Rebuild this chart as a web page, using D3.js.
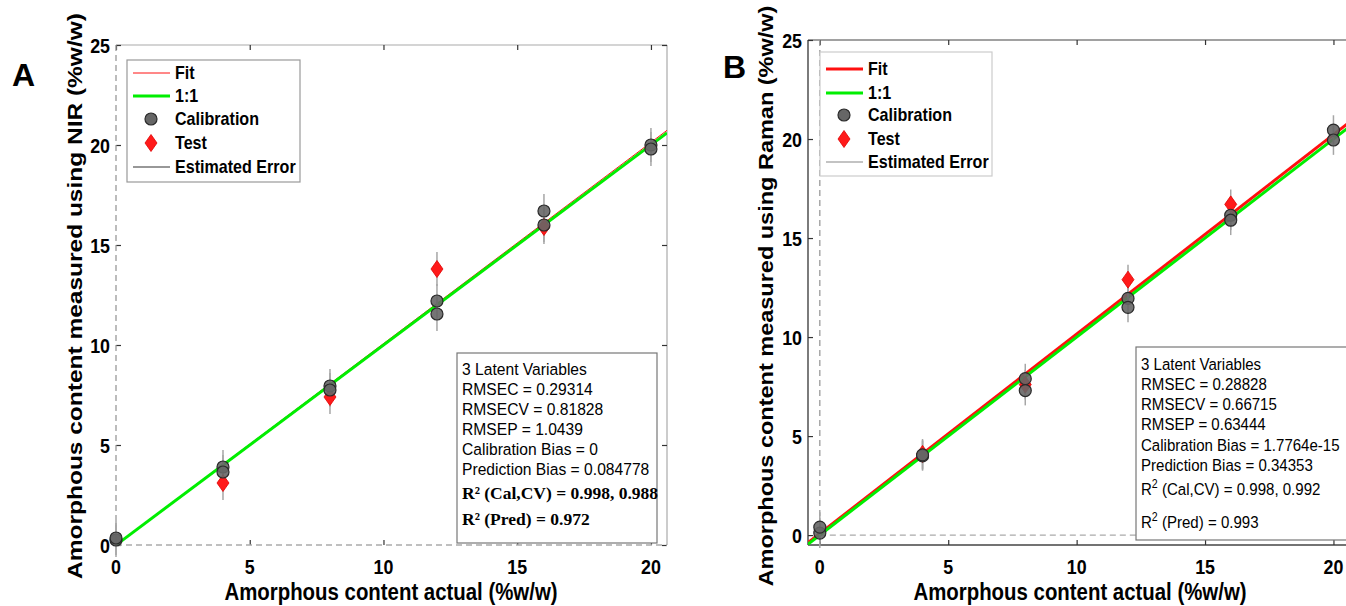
<!DOCTYPE html>
<html>
<head>
<meta charset="utf-8">
<script src="https://cdn.jsdelivr.net/npm/d3@7"></script>
<style>
  body { margin: 0; background: #fff; }
  svg { display: block; }
  text { font-family: "Liberation Sans", Arial, Helvetica, sans-serif; fill: #000; }
</style>
</head>
<body>
<svg id="chart" width="1346" height="606"></svg>
<script>
// ---- data ----
const xTicks = [0, 5, 10, 15, 20];
const yTicks = [0, 5, 10, 15, 20, 25];
const legendLabels = ['Fit', '1:1', 'Calibration', 'Test', 'Estimated Error'];

// panel A (NIR)
const nirCalX = [0, 0, 4, 4, 8, 8, 12, 12, 16, 16, 20, 20];
const nirCalY = [0.25, 0.35, 3.9, 3.65, 7.95, 7.75, 12.2, 11.55, 16.7, 16.0, 20.0, 19.8];
const nirTestX = [4, 8, 12, 16];
const nirTestY = [3.1, 7.4, 13.8, 15.9];
const nirErr = 0.85;
const nirFit = [1.006, 0.01];   // slope, intercept
const nirStats = ['3 Latent Variables', 'RMSEC = 0.29314', 'RMSECV = 0.81828', 'RMSEP = 1.0439',
  'Calibration Bias = 0', 'Prediction Bias = 0.084778'];
const nirR2 = ['(Cal,CV) = 0.998, 0.988', '(Pred) = 0.972'];

// panel B (Raman)
const ramCalX = [0, 0, 4, 4, 8, 8, 12, 12, 16, 16, 20, 20];
const ramCalY = [0.1, 0.4, 4.0, 4.05, 7.9, 7.3, 11.95, 11.5, 16.15, 15.9, 20.45, 19.95];
const ramTestX = [4, 8, 12, 16];
const ramTestY = [4.1, 7.6, 12.9, 16.7];
const ramErr = 0.75;
const ramFit = [1.007, 0.08];
const ramStats = ['3 Latent Variables', 'RMSEC = 0.28828', 'RMSECV = 0.66715', 'RMSEP = 0.63444',
  'Calibration Bias = 1.7764e-15', 'Prediction Bias = 0.34353'];
const ramR2 = ['(Cal,CV) = 0.998, 0.992', '(Pred) = 0.993'];

const svg = d3.select('#chart');

// text that is a little narrower than it is tall, like the reference
function sText(g, x, y, str, size, sx, weight) {
  return g.append('text')
    .attr('transform', `translate(${x},${y}) scale(${sx},1)`)
    .attr('font-size', size)
    .attr('font-weight', weight || 'normal')
    .text(str);
}

function diamond(g, cx, cy) {
  g.append('path')
    .attr('d', `M${cx},${cy - 8.5}L${cx + 6},${cy}L${cx},${cy + 8.5}L${cx - 6},${cy}Z`)
    .attr('fill', '#ff1a1a').attr('stroke', '#e00000').attr('stroke-width', 0.8);
}

function drawPanel(p) {
  const g = svg.append('g');
  const x = d3.scaleLinear().domain(p.xDom).range([p.left, p.right]);
  const y = d3.scaleLinear().domain(p.yDom).range([p.bottom, p.top]);

  const clipId = 'clip' + p.id;
  svg.append('clipPath').attr('id', clipId).append('rect')
    .attr('x', p.left).attr('y', p.top)
    .attr('width', p.right - p.left).attr('height', p.bottom - p.top);

  // box
  g.append('line').attr('x1', p.left).attr('x2', p.right).attr('y1', p.top).attr('y2', p.top)
    .attr('stroke', p.topColor).attr('stroke-width', 1.2);
  g.append('line').attr('x1', p.right).attr('x2', p.right).attr('y1', p.top).attr('y2', p.bottom)
    .attr('stroke', p.topColor).attr('stroke-width', 1.2);
  if (p.solidLeft) {
    g.append('line').attr('x1', p.left).attr('x2', p.left).attr('y1', p.top).attr('y2', p.bottom)
      .attr('stroke', '#444').attr('stroke-width', 1.4);
    g.append('line').attr('x1', p.left).attr('x2', p.right).attr('y1', p.bottom).attr('y2', p.bottom)
      .attr('stroke', '#444').attr('stroke-width', 1.6);
  }

  // ticks (inward)
  const axes = [
    [d3.axisBottom(x).tickValues(xTicks), `translate(0,${p.bottom})`],
    [d3.axisTop(x).tickValues(xTicks), `translate(0,${p.top})`],
    [d3.axisLeft(y).tickValues(yTicks), `translate(${p.left},0)`],
    [d3.axisRight(y).tickValues(yTicks), `translate(${p.right},0)`]
  ];
  axes.forEach(([ax, tr]) => {
    const a = g.append('g').attr('transform', tr).call(ax.tickSize(-5).tickFormat(''));
    a.select('.domain').remove();
    a.selectAll('line').attr('stroke', '#333').attr('stroke-width', 1.2);
  });

  // dashed zero lines
  g.append('line').attr('x1', x(0)).attr('x2', x(0)).attr('y1', p.top).attr('y2', p.bottom)
    .attr('stroke', '#999').attr('stroke-width', 1.3).attr('stroke-dasharray', '6,4');
  g.append('line').attr('x1', x(0)).attr('x2', p.right).attr('y1', y(0)).attr('y2', y(0))
    .attr('stroke', '#aaa').attr('stroke-width', 1.3).attr('stroke-dasharray', '6,4');

  // tick labels
  xTicks.forEach(t => {
    sText(g, x(t), p.bottom + 29, t, 21, 0.85, 'bold').attr('text-anchor', 'middle');
  });
  yTicks.forEach(t => {
    sText(g, p.left - 6, y(t) + 7.5, t, 21, 0.85, 'bold').attr('text-anchor', 'end');
  });

  // axis titles
  sText(g, p.xLabelX, 600, 'Amorphous content actual (%w/w)', 24, 0.85, 'bold')
    .attr('text-anchor', 'middle');
  g.append('text')
    .attr('transform', `translate(${p.yLabelX},${p.yLabelY}) scale(0.85,1) rotate(-90)`)
    .attr('font-size', p.yLabelSize).attr('font-weight', 'bold').attr('text-anchor', 'middle')
    .text(p.yLabel);

  // panel letter
  g.append('text').attr('x', p.letterX).attr('y', p.letterY)
    .attr('font-size', 32).attr('font-weight', 'bold').text(p.letter);

  // fit and 1:1 lines
  const lines = g.append('g').attr('clip-path', `url(#${clipId})`);
  const lineGen = d3.line().x(d => x(d[0])).y(d => y(d[1]));
  const xs = [p.xDom[0], p.xDom[1]];
  lines.append('path').datum(xs.map(v => [v, p.fit[0] * v + p.fit[1]]))
    .attr('d', lineGen).attr('fill', 'none').attr('stroke', '#ff1010').attr('stroke-width', p.fitWidth);
  lines.append('path').datum(xs.map(v => [v, v]))
    .attr('d', lineGen).attr('fill', 'none').attr('stroke', '#00ee00').attr('stroke-width', 3);

  // error bars
  const allX = p.calX.concat(p.testX), allY = p.calY.concat(p.testY);
  allX.forEach((v, i) => {
    g.append('line').attr('x1', x(v)).attr('x2', x(v))
      .attr('y1', y(allY[i] - p.err)).attr('y2', y(allY[i] + p.err))
      .attr('stroke', '#a6a6a6').attr('stroke-width', 1.5);
  });

  // markers
  p.testX.forEach((v, i) => diamond(g, x(v), y(p.testY[i])));
  p.calX.forEach((v, i) => {
    g.append('circle').attr('cx', x(v)).attr('cy', y(p.calY[i])).attr('r', 6)
      .attr('fill', '#666').attr('fill-opacity', 0.9).attr('stroke', '#2a2a2a').attr('stroke-width', 1.2);
  });

  // legend
  const L = p.legend;
  g.append('rect').attr('x', L.x).attr('y', L.y).attr('width', L.w).attr('height', L.h)
    .attr('fill', '#fff').attr('stroke', L.stroke).attr('stroke-width', 1.2);
  legendLabels.forEach((lab, i) => {
    const cy = L.y + L.rows[i];
    const mx = L.x + 24;
    if (i === 0) {
      g.append('line').attr('x1', L.x + 6).attr('x2', L.x + 43).attr('y1', cy).attr('y2', cy)
        .attr('stroke', '#ff1010').attr('stroke-width', p.fitWidth);
    } else if (i === 1) {
      g.append('line').attr('x1', L.x + 6).attr('x2', L.x + 43).attr('y1', cy).attr('y2', cy)
        .attr('stroke', '#00ee00').attr('stroke-width', 3);
    } else if (i === 2) {
      g.append('circle').attr('cx', mx).attr('cy', cy).attr('r', 6)
        .attr('fill', '#666').attr('stroke', '#2a2a2a').attr('stroke-width', 1.2);
    } else if (i === 3) {
      diamond(g, mx, cy);
    } else {
      g.append('line').attr('x1', L.x + 6).attr('x2', L.x + 43).attr('y1', cy).attr('y2', cy)
        .attr('stroke', p.errLegend).attr('stroke-width', 1.2);
    }
    sText(g, L.x + 48, cy + 6, lab, 17.5, 0.92, 'bold');
  });

  // stats box
  const S = p.stats;
  g.append('rect').attr('x', S.x).attr('y', S.y).attr('width', S.w).attr('height', S.h)
    .attr('fill', '#fff').attr('stroke', '#777').attr('stroke-width', 1.2);
  p.statLines.forEach((s, i) => {
    sText(g, S.x + 5, S.y + S.rows[i], s, 17, S.sx);
  });
  p.r2.forEach((s, i) => {
    const yy = S.y + S.rows[6 + i];
    if (p.serifR2) {
      g.append('text').attr('x', S.x + 5).attr('y', yy)
        .style('font-family', '"Liberation Serif", "Times New Roman", serif')
        .attr('font-size', 17.5).attr('font-weight', 'bold')
        .text('R\u00B2 ' + s);
    } else {
      const t = sText(g, S.x + 5, yy, 'R', 17, S.sx);
      t.append('tspan').attr('dy', -7).attr('font-size', 12).text('2');
      t.append('tspan').attr('dy', 7).text(' ' + s);
    }
  });
}

drawPanel({
  id: 'A', letter: 'A', letterX: 12, letterY: 86,
  xDom: [0, 20.6], yDom: [0, 25], left: 116, right: 667, top: 45, bottom: 545,
  topColor: '#aaa', solidLeft: false, xLabelX: 391,
  yLabel: 'Amorphous content measured using NIR (%w/w)', yLabelSize: 24.5, yLabelX: 82, yLabelY: 296,
  calX: nirCalX, calY: nirCalY, testX: nirTestX, testY: nirTestY, err: nirErr,
  fit: nirFit, fitWidth: 1, errLegend: '#333',
  legend: { x: 127, y: 60, w: 173, h: 122, stroke: '#999', rows: [13, 36, 59, 83, 107] },
  stats: { x: 457, y: 353, w: 200, h: 190, sx: 0.92, rows: [22, 42, 62, 82, 102, 122, 146, 172] },
  statLines: nirStats, r2: nirR2, serifR2: true
});

drawPanel({
  id: 'B', letter: 'B', letterX: 723, letterY: 78,
  xDom: [-0.46, 20.8], yDom: [-0.5, 25], left: 808, right: 1354, top: 40, bottom: 545,
  topColor: '#444', solidLeft: true, xLabelX: 1080,
  yLabel: 'Amorphous content measured using Raman (%w/w)', yLabelSize: 23.5, yLabelX: 773, yLabelY: 296,
  calX: ramCalX, calY: ramCalY, testX: ramTestX, testY: ramTestY, err: ramErr,
  fit: ramFit, fitWidth: 3, errLegend: '#888',
  legend: { x: 820, y: 52, w: 172, h: 124, stroke: '#ccc', rows: [17, 41, 63, 87, 110] },
  stats: { x: 1136, y: 347, w: 214, h: 193, sx: 0.885, rows: [23, 43, 63, 83, 104, 124, 148, 181] },
  statLines: ramStats, r2: ramR2, serifR2: false
});
</script>
</body>
</html>
